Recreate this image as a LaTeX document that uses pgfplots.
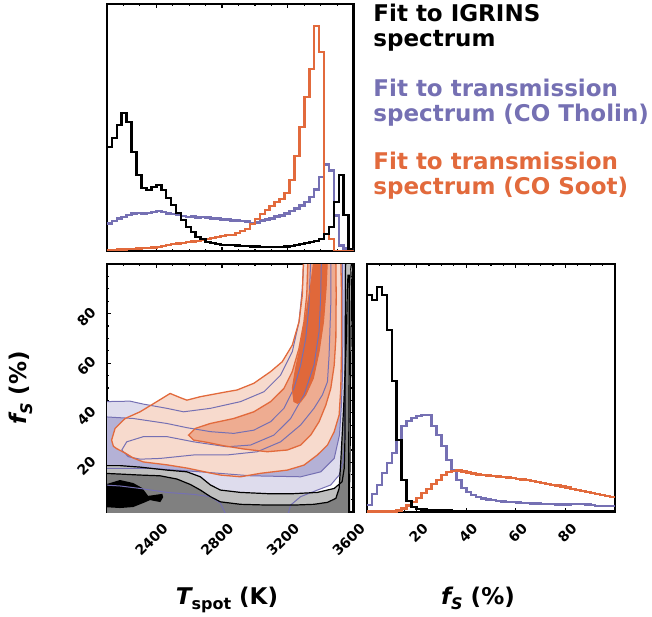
\documentclass[border=0pt]{standalone}
\usepackage{pgfplots}
\pgfplotsset{compat=1.18}
\usepackage{pgfplotstable}
\usepackage{fontspec}
\setmainfont{DejaVu Sans}

\definecolor{purp}{RGB}{117,112,179}
\definecolor{orng}{RGB}{226,106,60}
\definecolor{lav}{RGB}{222,220,237}
\definecolor{pmid}{RGB}{180,177,214}
\definecolor{pdark}{RGB}{150,146,200}
\definecolor{gthree}{RGB}{191,191,191}
\definecolor{gtwo}{RGB}{128,128,128}
\definecolor{othree}{RGB}{247,218,205}
\definecolor{otwo}{RGB}{238,172,145}
\definecolor{oone}{RGB}{224,104,58}

\newcommand\tickfont{\fontsize{7}{8}\selectfont\bfseries}
\newcommand\labfont{\fontsize{11.5}{13}\selectfont\bfseries}
\newcommand\subfont{\fontsize{8}{9}\selectfont\bfseries}

\pgfplotstableread{
T k p o
2100 104 27.7 1
2130 113 30 1
2160 126 32.7 1.5
2190 138 34 1.5
2220 129 36 2
2250 99 37.7 2
2280 76 38 2.5
2310 63 37.7 3
2340 61 38 3
2370 64 39 3.5
2400 66 40 4
2430 61 39 5
2460 53 37.7 6
2490 46 37 7
2520 38 36 7.5
2550 31 35 8
2580 24 34 9
2610 19 34.5 9.5
2640 14 33.7 10
2670 12 34 11
2700 9 33.7 12
2730 8 32.7 13
2760 7 32.7 14
2790 6 31.7 15
2820 6 31.7 16
2850 6 30.7 16
2880 5.5 30.3 18
2910 5 30 20
2940 5 29.3 22
2970 4.5 28 27
3000 4.5 28.7 32
3030 4 30.7 37
3060 4 31.7 41
3090 4 32.7 45
3120 4 34.7 49
3150 4 35.7 52
3180 4.5 37.3 58
3210 5 40 71
3240 6 42.3 95
3270 7 45.7 124
3300 8 49 154
3330 9 54 182
3360 10 61.3 225
3390 12 74 199
3420 17 86.7 17
3450 24 80.7 12
3480 49 35.7 0
3510 76 5.7 0
3540 36 2.3 0
3570 2 1.3 0
3600 2 1.3 0
}\tophist

\pgfplotstableread{
f k p o
0 217 7 0.3
2 212 18 0.3
4 225 27 0.3
6 217 39 0.3
8 182 49 0.3
10 131 59 0.5
12 72 72 1.3
14 32 86 3.3
16 11 91 6.3
18 5 94 10
20 3 96 14
22 2.5 97 19
24 2 97 23
26 2 86 28
28 1.5 77 32
30 1.5 66 37
32 1.5 52 40
34 1.2 42 41
36 1.2 32 41.7
38 1 24 40.7
40 1 20 39.7
42 1 17 38.5
44 1 15 37.5
46 1 13.5 37
48 1 12.5 36.5
50 1 12 36
52 1 11 35.5
54 0.8 10.5 35
56 0.8 10 34.5
58 0.8 10 34
60 0.8 9.5 33
62 0.8 9 32.5
64 0.8 9 32
66 0.6 8.5 31
68 0.6 8.5 30
70 0.6 8 29
72 0.6 8 28
74 0.6 8 27
76 0.6 7.5 26.5
78 0.5 7.5 25.5
80 0.5 7.5 24.5
82 0.5 8 23
84 0.5 8 22
86 0.5 8 21
88 0.5 7.5 20
90 0.5 7 19
92 0.5 6 18
94 0.5 6 17
96 0.5 6 16
98 0.5 6 15
100 0.5 6 15
}\righthist

% contour levels (T, f)
\pgfplotstableread{
T f
2080 44.5
2240 44.7
2322 43.5
2464 41.8
2566 40.4
2729 41.8
2912 44.5
3055 48.5
3156 55.2
3227 64.6
3268 76.7
3288 90.2
3298 102
3549 102
3549 76.7
3548 49.8
3546 29.7
3536 20.3
3512 14.9
3461 10.9
3380 8.85
3278 6.2
3217 2.8
3197 -2
2830 -2
2790 3.5
2729 6.2
2627 7.1
2464 7.9
2301 9.5
2179 10.5
2080 10.9
}\Pthree

\pgfplotstableread{
T f
2080 38.4
2261 37.7
2464 35.7
2586 34.0
2729 32.4
2871 31.7
2993 33.0
3095 36.4
3176 41.8
3237 49.8
3278 59.2
3309 70.0
3329 83.4
3339 102
3533 102
3535 76.7
3533 56.6
3526 43.1
3514 31.0
3482 21.6
3400 16.2
3278 14.2
2973 14.6
2668 16.2
2362 17.6
2080 17.6
}\Ptwo

\pgfplotstableread{
T f
2190 25.0
2220 28.3
2322 30.4
2464 30.4
2627 28.3
2830 26.3
2973 27.0
3115 31.0
3217 37.7
3298 47.2
3359 59.2
3390 72.7
3400 87.5
3404 102
3461 102
3461 83.4
3451 63.3
3441 52.5
3410 47.2
3359 41.8
3278 35.1
3156 28.3
3014 24.3
2830 23.0
2627 23.0
2423 21.6
2301 21.3
2230 22.3
}\Pone

\pgfplotstableread{
T f
2080 18.7
2179 18.7
2301 18.1
2464 16.9
2586 16.2
2668 14.2
2729 10.9
2790 8.85
2912 7.9
3075 7.4
3237 7.4
3380 7.9
3482 9.5
3530 12.2
3543 17.6
3547 28.3
3548 43.1
3549 63.3
3550 83.4
3551 95.5
3552 102
3590 102
3583 98
3587 90
3583 63
3580 36
3578 17.6
3575 9.5
3575 -2
2080 -2
}\Gthree

\pgfplotstableread{
T f
2080 15.6
2179 15.3
2301 14.9
2423 14.6
2525 13.3
2607 11.1
2668 8.85
2729 6.2
2790 4.1
2912 3.1
3075 2.8
3237 2.8
3359 3.1
3441 3.9
3492 5.5
3512 9.5
3522 20.3
3540 43
3556 70
3562 90
3566 95.5
3574 95.5
3574 70
3572 43
3570 20
3570 -2
2080 -2
}\Gtwo

\pgfplotstableread{
T f
2080 10.9
2179 12.9
2259 11.7
2314 9.7
2350 6.5
2393 6.9
2436 7.3
2442 6
2424 4
2362 4.8
2320 3.6
2259 2
2179 1.6
2080 2
}\Gone

\pgfplotstableread{
T f
2128 29.0
2149 33.7
2210 37.7
2301 40.4
2403 44.5
2484 47.8
2546 46.1
2586 45.1
2668 46.5
2830 48.5
2891 49.2
2993 51.9
3095 56.6
3166 60.6
3227 67.3
3268 76.7
3288 87.5
3295 102
3522 102
3526 90.2
3526 63.3
3522 49.8
3512 39.1
3482 32.4
3441 27.0
3380 23.0
3298 18.9
3197 16.9
3034 15.6
2912 14.2
2790 14.9
2729 15.7
2588 17.7
2466 19.0
2320 20.2
2259 21.8
2210 23.8
2160 25.5
2139 26.5
}\Othree

\pgfplotstableread{
T f
2596 31.0
2637 33.7
2729 35.7
2871 37.7
2993 40.4
3095 44.5
3176 49.8
3227 56.6
3268 66.0
3298 76.7
3315 87.5
3322 102
3492 102
3494 87.5
3492 70.0
3482 59.2
3461 49.8
3431 43.1
3390 36.4
3339 31.0
3278 27.0
3197 25.0
3075 24.3
2932 25.4
2810 26.7
2708 28.1
2627 29.0
}\Otwo

\pgfplotstableread{
T f
3237 44.5
3227 49.8
3247 57.9
3278 67.3
3309 79.4
3339 91.5
3359 102
3441 102
3433 90.2
3417 76.7
3390 64.6
3355 53.9
3309 47.2
3278 44.5
3258 43.8
}\Oone

\pgfplotsset{
  corner/.style={
    scale only axis,
    anchor=south west,
    axis line style={line width=1.4pt},
    tick style={black, line width=0.6pt},
    major tick length=2pt,
    minor tick length=1.2pt,
    tick align=inside,
    xticklabel style={font=\tickfont, xshift=2.5pt, rotate=45, anchor=north east},
    yticklabel style={font=\tickfont, rotate=45, anchor=south east},
  },
  Taxis/.style={
    xmin=2100, xmax=3600,
    xtick={2400,2800,3200,3600},
    minor xtick={2100,2200,2300,2500,2600,2700,2900,3000,3100,3300,3400,3500},
  },
  faxis/.style={
    xmin=0, xmax=100,
    xtick={20,40,60,80},
    minor xtick={5,10,15,25,30,35,45,50,55,65,70,75,85,90,95},
  },
  hist/.style={const plot mark left, no markers, line width=1.3pt},
}

\begin{document}
\begin{tikzpicture}
\useasboundingbox (0,0) rectangle (326pt,308pt);

% top histogram: T_spot
\begin{axis}[corner, Taxis, at={(53.5pt,182.5pt)}, width=123.3pt, height=123.5pt,
  ymin=0, ymax=247, ytick=\empty, xticklabels={}]
\addplot[hist, purp] table[x=T, y=p] {\tophist};
\addplot[hist, orng] table[x=T, y=o] {\tophist};
\addplot[hist, black] table[x=T, y=k] {\tophist};
\end{axis}

% 2D contours
\begin{axis}[corner, Taxis, at={(53.5pt,52pt)}, width=123.3pt, height=124pt,
  ymin=0, ymax=100,
  xticklabels={2400,2800,3200,3600},
  ytick={20,40,60,80}, yticklabels={20,40,60,80},
  minor ytick={5,10,15,25,30,35,45,50,55,65,70,75,85,90,95}]
\addplot[fill=lav, draw=none] table[x=T,y=f] {\Pthree} -- cycle;
\addplot[fill=pmid, draw=none] table[x=T,y=f] {\Ptwo} -- cycle;
\addplot[fill=pdark, draw=none] table[x=T,y=f] {\Pone} -- cycle;
\addplot[fill=gthree, draw=none] table[x=T,y=f] {\Gthree} -- cycle;
\addplot[fill=gtwo, draw=none] table[x=T,y=f] {\Gtwo} -- cycle;
\addplot[fill=black, draw=none] table[x=T,y=f] {\Gone} -- cycle;
\addplot[fill=othree, draw=none] table[x=T,y=f] {\Othree} -- cycle;
\addplot[fill=otwo, draw=none] table[x=T,y=f] {\Otwo} -- cycle;
\addplot[fill=oone, draw=none] table[x=T,y=f] {\Oone} -- cycle;
\addplot[purp, line width=0.5pt] table[x=T,y=f] {\Pthree} -- cycle;
\addplot[purp, line width=0.5pt] table[x=T,y=f] {\Ptwo} -- cycle;
\addplot[purp, line width=0.5pt] table[x=T,y=f] {\Pone} -- cycle;
\addplot[black, line width=0.6pt] table[x=T,y=f] {\Gthree} -- cycle;
\addplot[black, line width=0.6pt] table[x=T,y=f] {\Gtwo} -- cycle;
\addplot[orng, line width=0.65pt] table[x=T,y=f] {\Othree} -- cycle;
\addplot[orng, line width=0.65pt] table[x=T,y=f] {\Otwo} -- cycle;
\addplot[oone, line width=0.5pt] table[x=T,y=f] {\Oone} -- cycle;
\end{axis}

% right histogram: f_S
\begin{axis}[corner, faxis, at={(183.5pt,52pt)}, width=124pt, height=124pt,
  ymin=0, ymax=248, ytick=\empty, xticklabels={20,40,60,80}]
\addplot[hist, purp] table[x=f, y=p] {\righthist};
\addplot[hist, orng] table[x=f, y=o] {\righthist};
\addplot[hist, black] table[x=f, y=k] {\righthist};
\end{axis}

% axis labels
\node[anchor=base, inner sep=0] at (113.5pt,6pt) {\labfont\itshape T\upshape\raisebox{-0.25em}{\subfont spot} (K)};
\node[anchor=base, inner sep=0] at (239pt,6pt) {\labfont\itshape f\raisebox{-0.25em}{\subfont\itshape S}\upshape{} (\%)};
\node[rotate=90, anchor=center, inner sep=0] at (10.5pt,114pt) {\labfont\itshape f\raisebox{-0.25em}{\subfont\itshape S}\upshape{} (\%)};

% legend text
\node[anchor=base west, inner sep=0, text=black] at (186.5pt,297.15pt) {\labfont Fit to IGRINS};
\node[anchor=base west, inner sep=0, text=black] at (186.5pt,284.65pt) {\labfont spectrum};
\node[anchor=base west, inner sep=0, text=purp] at (186.5pt,259.65pt) {\labfont Fit to transmission};
\node[anchor=base west, inner sep=0, text=purp] at (186.5pt,247.15pt) {\labfont spectrum (CO Tholin)};
\node[anchor=base west, inner sep=0, text=orng] at (186.5pt,223pt) {\labfont Fit to transmission};
\node[anchor=base west, inner sep=0, text=orng] at (186.5pt,210.5pt) {\labfont spectrum (CO Soot)};
\end{tikzpicture}
\end{document}
